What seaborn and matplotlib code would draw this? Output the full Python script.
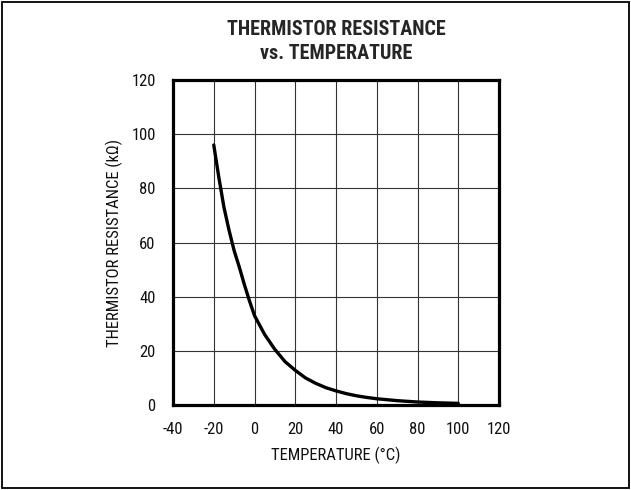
import matplotlib
matplotlib.use("Agg")
import matplotlib.pyplot as plt
import seaborn as sns
import pandas as pd
from matplotlib.patches import Rectangle

# Valeurs
temperature_c = [-20, -17.5, -15, -12.5, -10, -7.5, -5, -2.5, 0, 5, 10, 15, 20, 25, 30, 35, 40, 45, 50, 55, 60, 70, 80, 90, 100]
resistance_kohm = [96, 84, 73, 64.5, 57, 51, 44.5, 38.5, 33, 26, 20.5, 16, 12.8, 10, 8, 6.4, 5.2, 4.2, 3.4, 2.8, 2.3, 1.6, 1.1, 0.8, 0.6]

x_ticks = [-40, -20, 0, 20, 40, 60, 80, 100, 120]
y_ticks = [0, 20, 40, 60, 80, 100, 120]

df = pd.DataFrame({"temp": temperature_c, "res": resistance_kohm})

sns.set_style("white")
plt.rcParams["font.family"] = ["Roboto Condensed", "DejaVu Sans"]
plt.rcParams["axes.unicode_minus"] = False

fig = plt.figure(figsize=(6.31, 4.90), dpi=100)
ax = fig.add_axes([0.2742, 0.1735, 0.5166, 0.6632])

sns.lineplot(data=df, x="temp", y="res", ax=ax, color="black", linewidth=2.4)

ax.set_xlim(-40, 120)
ax.set_ylim(0, 120)
ax.set_xticks(x_ticks)
ax.set_yticks(y_ticks)
ax.tick_params(axis="both", length=0, labelsize=12, colors="#111111")
ax.tick_params(axis="x", pad=12)
ax.tick_params(axis="y", pad=12.5)
ax.grid(True, color="#333333", linewidth=0.8)
for s in ax.spines.values():
    s.set_linewidth(2.3)
    s.set_color("black")

ax.set_xlabel("TEMPERATURE (°C)", fontsize=12, color="#111111", labelpad=7)
ax.set_ylabel("THERMISTOR RESISTANCE (kΩ)", fontsize=12, color="#111111", labelpad=6)
ax.set_title("THERMISTOR RESISTANCE\nvs. TEMPERATURE", fontsize=14.5, fontweight="bold",
             linespacing=1.35, pad=15)

# Cadre extérieur
fig.patches.append(Rectangle((0.003, 0.004), 0.994, 0.992, transform=fig.transFigure,
                             fill=False, edgecolor="black", linewidth=1.3))

fig.savefig("out.png", dpi=100)
plt.close(fig)
